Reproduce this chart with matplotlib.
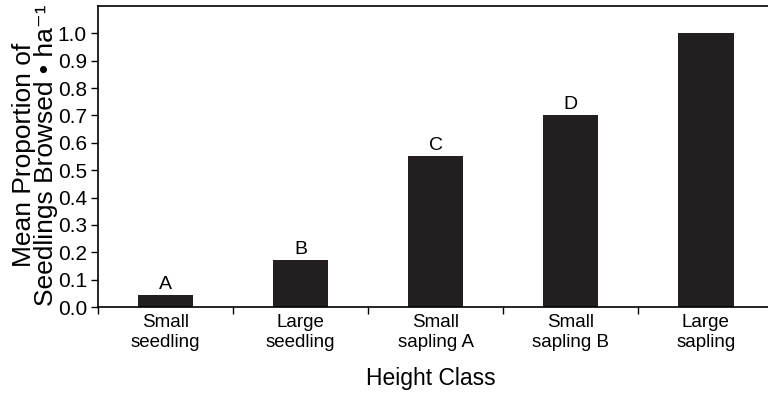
#!/usr/bin/env python3

import matplotlib
matplotlib.use("Agg")
import matplotlib.pyplot as plt

# mean proportion browsed per height class
classes = ["Small\nseedling", "Large\nseedling", "Small\nsapling A",
           "Small\nsapling B", "Large\nsapling"]
proportion = [0.044, 0.17, 0.55, 0.70, 1.0]
letters = ["A", "B", "C", "D", ""]
yticks = [0.0, 0.1, 0.2, 0.3, 0.4, 0.5, 0.6, 0.7, 0.8, 0.9, 1.0]

plt.rcParams["font.family"] = ["Liberation Sans", "DejaVu Sans"]

fig = plt.figure(figsize=(7.68, 3.94), dpi=100)
ax = fig.add_axes([0.1276, 0.2208, 0.8724, 0.764])

x = list(range(len(classes)))
ax.bar(x, proportion, width=0.41, color="#231f20")

# significance letters above bars
for xi, h, lab in zip(x, proportion, letters):
    if lab:
        ax.text(xi, h + 0.008, lab, ha="center", va="bottom", fontsize=14)

ax.set_xlim(-0.5, 4.46)
ax.set_ylim(0, 1.1)

ax.set_yticks(yticks)
ax.set_yticklabels([f"{t:.1f}" for t in yticks], fontsize=15)

# category labels centred, tick marks between categories
ax.set_xticks([-0.5, 0.5, 1.5, 2.5, 3.5])
ax.set_xticklabels([])
ax.set_xticks(x, minor=True)
ax.set_xticklabels(classes, minor=True, fontsize=13.5, linespacing=1.2)
ax.tick_params(axis="x", which="minor", length=0, pad=5)
ax.tick_params(axis="x", which="major", length=5, width=1)
ax.tick_params(axis="y", length=5, width=1, pad=3)

ax.spines["right"].set_visible(False)
for s in ["left", "bottom", "top"]:
    ax.spines[s].set_linewidth(1.2)

ax.set_xlabel("Height Class", fontsize=16.5)
ax.xaxis.set_label_coords(0.497, -0.2)
ax.set_ylabel("Mean Proportion of\nSeedlings Browsed \u2022 ha\u207b\u00b9",
              fontsize=19, linespacing=0.88, multialignment="center")
ax.yaxis.set_label_coords(-0.06, 0.505)

plt.savefig("out.png", dpi=100)
